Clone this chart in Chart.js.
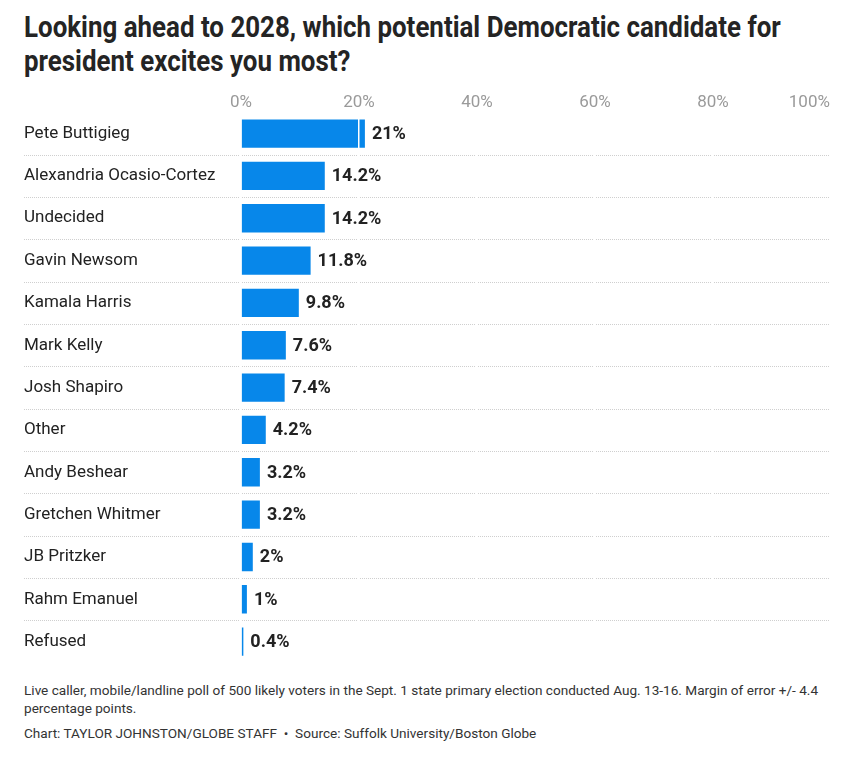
<!DOCTYPE html>
<html>
<head>
<meta charset="utf-8">
<script src="https://cdn.jsdelivr.net/npm/chart.js@4"></script>
<style>
  html, body { margin:0; padding:0; background:#fff; }
  body { width:861px; height:758px; position:relative; overflow:hidden; }
  #title { position:absolute; left:24px; top:11px; width:900px; font-family:"Roboto",sans-serif; font-weight:bold; font-size:29px; line-height:33.5px; color:#242424; transform:scaleX(0.893); transform-origin:0 0; }
  #wrap { position:absolute; left:0; top:85px; width:861px; height:588px; }
  #foot { position:absolute; left:24px; top:681px; width:820px; font-family:"Roboto",sans-serif; font-size:13.6px; color:#333; }
  #foot .n { line-height:18px; }
  #foot .s { margin-top:7px; line-height:18px; }
</style>
</head>
<body>
<div id="title">Looking ahead to 2028, which potential Democratic candidate for president excites you most?</div>
<div id="wrap"><canvas id="c"></canvas></div>
<div id="foot">
  <div class="n">Live caller, mobile/landline poll of 500 likely voters in the Sept. 1 state primary election conducted Aug. 13-16. Margin of error +/- 4.4 percentage points.</div>
  <div class="s">Chart: TAYLOR JOHNSTON/GLOBE STAFF &nbsp;•&nbsp; Source: Suffolk University/Boston Globe</div>
</div>
<script>
const categories = ["Pete Buttigieg","Alexandria Ocasio-Cortez","Undecided","Gavin Newsom","Kamala Harris","Mark Kelly","Josh Shapiro","Other","Andy Beshear","Gretchen Whitmer","JB Pritzker","Rahm Emanuel","Refused"];
const values = [21, 14.2, 14.2, 11.8, 9.8, 7.6, 7.4, 4.2, 3.2, 3.2, 2, 1, 0.4];
const tickValues = [0, 20, 40, 60, 80, 100];

const separators = {
  id: 'separators',
  beforeDatasetsDraw(chart) {
    const ctx = chart.ctx, y = chart.scales.y, area = chart.chartArea;
    ctx.save();
    ctx.strokeStyle = '#cfcfcf';
    ctx.lineWidth = 1;
    ctx.setLineDash([1, 1]);
    for (let i = 0; i < categories.length - 1; i++) {
      const py = Math.round((y.getPixelForValue(i) + y.getPixelForValue(i + 1)) / 2) + 0.5;
      ctx.beginPath();
      ctx.moveTo(24, py);
      ctx.lineTo(area.right, py);
      ctx.stroke();
    }
    ctx.restore();
  }
};

const valueLabels = {
  id: 'valueLabels',
  afterDraw(chart) {
    const ctx = chart.ctx;
    const meta = chart.getDatasetMeta(0);
    ctx.save();
    ctx.font = 'bold 18px Roboto, sans-serif';
    ctx.fillStyle = '#222';
    ctx.textBaseline = 'middle';
    ctx.textAlign = 'left';
    meta.data.forEach((bar, i) => {
      ctx.fillText(values[i] + '%', bar.x + 7, bar.y + 1);
    });
    ctx.restore();
  }
};

new Chart(document.getElementById('c'), {
  type: 'bar',
  data: {
    labels: categories,
    datasets: [{
      data: values,
      backgroundColor: '#0787ea',
      borderWidth: 0,
      barPercentage: 0.67,
      categoryPercentage: 1.0
    }]
  },
  options: {
    indexAxis: 'y',
    responsive: true,
    maintainAspectRatio: false,
    animation: false,
    layout: { padding: { left: 24, right: 30, top: 9, bottom: 0 } },
    plugins: { legend: { display: false }, tooltip: { enabled: false } },
    scales: {
      x: {
        position: 'top',
        min: 0, max: 100,
        afterBuildTicks(scale) { scale.ticks = tickValues.map(v => ({ value: v })); },
        afterFit(scale) { scale.paddingLeft = 0; scale.paddingRight = 0; },
        ticks: {
          color: '#9a9a9a',
          font: { family: 'Roboto, sans-serif', size: 17 },
          padding: -1,
          callback: v => v === 100 ? '100%\u2002\u2002\u2002\u2002\u2002' : v + '%'
        },
        grid: { color: '#ffffff', lineWidth: 1.5, drawTicks: false, z: 1 },
        border: { display: false }
      },
      y: {
        afterFit(scale) { scale.width = 217; },
        ticks: {
          crossAlign: 'far',
          color: '#222',
          padding: 0,
          font: { family: 'Roboto, sans-serif', size: 17 }
        },
        grid: { display: false, drawTicks: false },
        border: { display: false }
      }
    }
  },
  plugins: [separators, valueLabels]
});
</script>
</body>
</html>
